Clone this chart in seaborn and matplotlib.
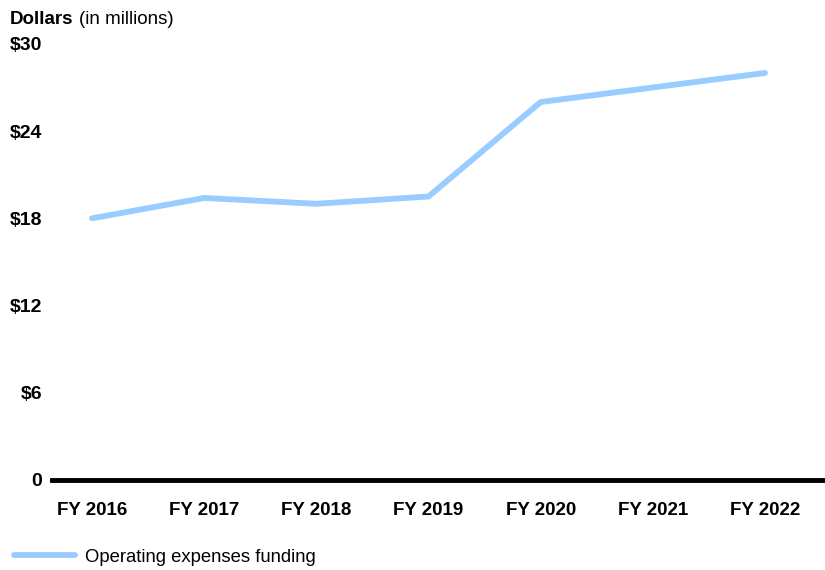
import pandas as pd
import matplotlib
matplotlib.use("Agg")
import matplotlib.pyplot as plt
import seaborn as sns

# data
years = ["FY 2016", "FY 2017", "FY 2018", "FY 2019", "FY 2020", "FY 2021", "FY 2022"]
funding = [18.0, 19.4, 19.0, 19.5, 26.0, 27.0, 28.0]
y_ticks = [0, 6, 12, 18, 24, 30]
y_tick_labels = ["0", "$6", "$12", "$18", "$24", "$30"]
series_name = "Operating expenses funding"

df = pd.DataFrame({"year": years, "value": funding, "series": series_name})
df["pos"] = range(len(years))

sns.set_theme(style="white")
plt.rcParams["font.family"] = ["Liberation Sans", "DejaVu Sans"]
plt.rcParams["text.color"] = "black"
plt.rcParams["xtick.color"] = "black"
plt.rcParams["ytick.color"] = "black"

fig = plt.figure(figsize=(8.25, 5.7), dpi=100)
ax = fig.add_axes([0.063, 0.158, 0.937, 0.765])

sns.lineplot(data=df, x="pos", y="value", hue="series",
             palette=["#99ccff"], linewidth=4.2, ax=ax, legend=False)

ax.set_xlim(-0.357, 6.535)
ax.set_ylim(0, 30)
ax.set_xticks(df["pos"])
ax.set_xticklabels(years, fontsize=13.5, fontweight="bold")
ax.set_yticks(y_ticks)
ax.set_yticklabels(y_tick_labels, fontsize=14, fontweight="bold")
ax.tick_params(axis="x", length=0, pad=16)
ax.tick_params(axis="y", length=0, pad=7)
ax.set_xlabel("")
ax.set_ylabel("")

for side in ["top", "right", "left"]:
    ax.spines[side].set_visible(False)
ax.spines["bottom"].set_linewidth(3.5)
ax.spines["bottom"].set_color("black")
ax.grid(False)

# header above the axis
fig.text(0.012, 0.966, "Dollars", fontsize=13.5, fontweight="bold", va="center")
fig.text(0.096, 0.966, "(in millions)", fontsize=13.5, va="center")

# legend at the bottom
handle = plt.Line2D([], [], color="#99ccff", linewidth=4.2)
fig.legend([handle], [series_name], loc="center left",
           bbox_to_anchor=(0.017, 0.022), frameon=False, fontsize=13.3,
           borderpad=0, borderaxespad=0,
           handlelength=3.3, handletextpad=0.55)

fig.savefig("out.png", dpi=100)
